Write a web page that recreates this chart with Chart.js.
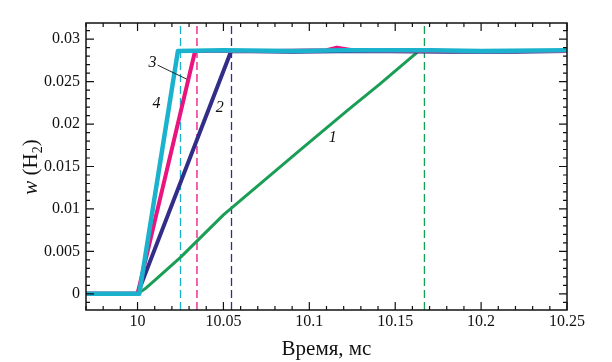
<!DOCTYPE html>
<html><head><meta charset="utf-8">
<script src="https://cdn.jsdelivr.net/npm/chart.js@4/dist/chart.umd.min.js"></script>
<style>html,body{margin:0;padding:0;background:#fff}#wrap{width:612px;height:362px}</style>
</head><body><div id="wrap"><canvas id="c" width="612" height="362"></canvas></div>
<script>
// ---- data ----
const xTickValues = [10, 10.05, 10.1, 10.15, 10.2, 10.25];
const xTickLabels = ['10', '10.05', '10.1', '10.15', '10.2', '10.25'];
const yTickValues = [0, 0.005, 0.01, 0.015, 0.02, 0.025, 0.03];
const yTickLabels = ['0', '0.005', '0.01', '0.015', '0.02', '0.025', '0.03'];

// curve 1 (green)
const t1 = [9.97, 10.0, 10.005, 10.01, 10.025, 10.05, 10.0944, 10.1224, 10.141, 10.1643, 10.2, 10.25];
const w1 = [0, 0, 0.0007, 0.0016, 0.0043, 0.0093, 0.0169, 0.02165, 0.0247, 0.0287, 0.0286, 0.0286];
// curve 2 (dark blue)
const t2 = [9.97, 10.0, 10.0545, 10.09, 10.13, 10.18, 10.22, 10.25];
const w2 = [0, 0, 0.0286, 0.0285, 0.0286, 0.0285, 0.0285, 0.0286];
// curve 3 (magenta)
const t3 = [9.97, 10.0, 10.0335, 10.08, 10.11, 10.116, 10.125, 10.18, 10.25];
const w3 = [0, 0, 0.0286, 0.0286, 0.0287, 0.0290, 0.0287, 0.0286, 0.0286];
// curve 4 (cyan)
const t4 = [9.97, 10.001, 10.0235, 10.05, 10.09, 10.12, 10.17, 10.2, 10.25];
const w4 = [0, 0, 0.0286, 0.0287, 0.0286, 0.0287, 0.0287, 0.0286, 0.0287];

// dashed markers (end of rise for each curve)
const markerTimes = [10.025, 10.0346, 10.0547, 10.167];
const markerColors = ['#1ab2cc', '#e8157f', '#322e88', '#1a9e55'];

// curve number labels
const labelText = ['1', '2', '3', '4'];
const labelT = [10.1136, 10.0478, 10.0087, 10.0111];
const labelW = [0.01835, 0.02188, 0.02718, 0.02235];
// leader line for label 3
const leaderT = [10.0117, 10.0286];
const leaderW = [0.02694, 0.02529];

const X_MIN = 9.97, X_MAX = 10.25, Y_MIN = -0.0019, Y_MAX = 0.0319;

const pts = (t, w) => t.map((x, i) => ({ x: x, y: w[i] }));
const SERIF = '"Liberation Serif", "DejaVu Serif", serif';

const datasets = [
  { data: pts(t4, w4), borderColor: '#1ab2cc', borderWidth: 4.5 },
  { data: pts(t3, w3), borderColor: '#e8157f', borderWidth: 4 },
  { data: pts(t2, w2), borderColor: '#322e88', borderWidth: 4 },
  { data: pts(t1, w1), borderColor: '#1a9e55', borderWidth: 3 }
];
markerTimes.forEach((m, i) => {
  datasets.push({ data: [{ x: m, y: Y_MIN }, { x: m, y: Y_MAX }], borderColor: markerColors[i], borderWidth: 1.3, borderDash: [8, 4] });
});
datasets.forEach(d => { d.pointRadius = 0; d.tension = 0; d.fill = false; d.borderJoinStyle = 'round'; });

const frame = {
  id: 'frame',
  afterDatasetsDraw(chart) {
    const { ctx, chartArea: a, scales: { x, y } } = chart;
    ctx.save();
    ctx.strokeStyle = '#111';
    ctx.lineWidth = 1.5;
    ctx.strokeRect(a.left, a.top, a.right - a.left, a.bottom - a.top);
    ctx.lineWidth = 1.2;
    ctx.beginPath();
    // x ticks every 0.01, major every 0.05
    for (let k = Math.ceil(X_MIN * 100 - 1e-6); k <= Math.floor(X_MAX * 100 + 1e-6); k++) {
      const v = k / 100;
      const px = x.getPixelForValue(v);
      const len = (k % 5 === 0) ? 8 : 4;
      ctx.moveTo(px, a.bottom); ctx.lineTo(px, a.bottom - len);
      ctx.moveTo(px, a.top); ctx.lineTo(px, a.top + len);
    }
    for (let k = Math.ceil(Y_MIN * 1000 - 1e-6); k <= Math.floor(Y_MAX * 1000 + 1e-6); k++) {
      const v = k / 1000;
      const py = y.getPixelForValue(v);
      const len = (k % 5 === 0) ? 8 : 4;
      ctx.moveTo(a.left, py); ctx.lineTo(a.left + len, py);
      ctx.moveTo(a.right, py); ctx.lineTo(a.right - len, py);
    }
    ctx.stroke();

    // curve labels
    ctx.fillStyle = '#111';
    ctx.font = 'italic 16px ' + SERIF;
    ctx.textAlign = 'center';
    ctx.textBaseline = 'middle';
    labelText.forEach((s, i) => ctx.fillText(s, x.getPixelForValue(labelT[i]), y.getPixelForValue(labelW[i])));
    ctx.lineWidth = 0.9;
    ctx.beginPath();
    ctx.moveTo(x.getPixelForValue(leaderT[0]), y.getPixelForValue(leaderW[0]));
    ctx.lineTo(x.getPixelForValue(leaderT[1]), y.getPixelForValue(leaderW[1]));
    ctx.stroke();

    // y title: w (H2)
    ctx.save();
    ctx.translate(30, 167);
    ctx.rotate(-Math.PI / 2);
    ctx.textAlign = 'left';
    ctx.textBaseline = 'alphabetic';
    const fIt = 'italic 21px ' + SERIF, fR = '21px ' + SERIF, fS = '14px ' + SERIF;
    const parts = [[fIt, 'w', 0], [fR, ' (H', 0], [fS, '2', 5], [fR, ')', 0]];
    let total = 0;
    parts.forEach(p => { ctx.font = p[0]; total += ctx.measureText(p[1]).width; });
    let cx = -total / 2;
    parts.forEach(p => { ctx.font = p[0]; ctx.fillText(p[1], cx, 7 + p[2]); cx += ctx.measureText(p[1]).width; });
    ctx.restore();
    ctx.restore();
  }
};

new Chart(document.getElementById('c'), {
  type: 'line',
  data: { datasets },
  options: {
    responsive: false,
    animation: false,
    layout: { padding: { top: 23, right: 45, left: 0, bottom: 0 } },
    plugins: { legend: { display: false }, tooltip: { enabled: false } },
    scales: {
      x: {
        type: 'linear', min: X_MIN, max: X_MAX,
        afterBuildTicks: s => { s.ticks = xTickValues.map(v => ({ value: v })); },
        afterFit: s => { s.height = 52; },
        ticks: { callback: (v) => { const i = xTickValues.findIndex(t => Math.abs(t - v) < 1e-9); return i >= 0 ? xTickLabels[i] : ''; },
                 color: '#111', font: { family: SERIF, size: 16 }, padding: 2, maxRotation: 0, autoSkip: false },
        grid: { display: false, drawTicks: false },
        border: { display: false },
        title: { display: true, text: 'Время, мс', color: '#111', font: { family: SERIF, size: 21 }, padding: { top: 0, bottom: 0 } }
      },
      y: {
        type: 'linear', min: Y_MIN, max: Y_MAX,
        afterBuildTicks: s => { s.ticks = yTickValues.map(v => ({ value: v })); },
        afterFit: s => { s.width = 86; },
        ticks: { callback: (v) => { const i = yTickValues.findIndex(t => Math.abs(t - v) < 1e-9); return i >= 0 ? yTickLabels[i] : ''; },
                 color: '#111', font: { family: SERIF, size: 16 }, padding: 6, autoSkip: false },
        grid: { display: false, drawTicks: false },
        border: { display: false }
      }
    }
  },
  plugins: [frame]
});
</script>
</body></html>
